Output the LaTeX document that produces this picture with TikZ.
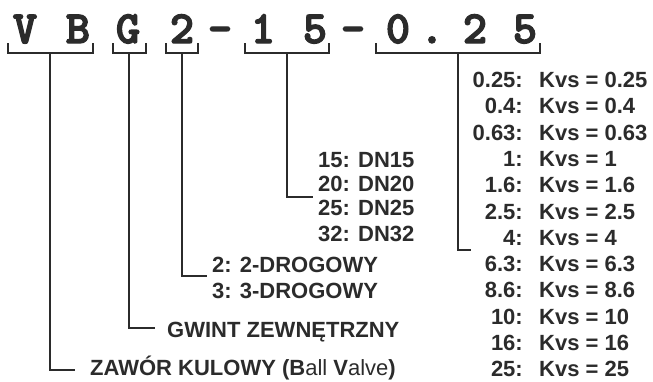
\documentclass[tikz,border=0pt]{standalone}
\usepackage{fontspec}
\setmainfont{Liberation Sans}
\newfontfamily\codefont[FakeBold=3]{lmmonolt10-bold.otf}
\definecolor{ink}{HTML}{2B2B2B}
\begin{document}
\begin{tikzpicture}[x=1pt,y=-1pt,
  code/.style={font=\codefont\fontsize{46}{46}\selectfont, text=ink, anchor=base, inner sep=0pt},
  lbl/.style={font=\bfseries\fontsize{22}{22}\selectfont, text=ink, inner sep=0pt},
  wire/.style={draw=ink, line width=2pt}]
\useasboundingbox (0,0) rectangle (653,381);

% type code, one character per node
\foreach \ch/\x [count=\i] in {V/25, B/78, G/128, 2/182, -/220, 1/263, 5/315, -/353, 0/398, ./432, 2/475, 5/525}
  \node[code] (c\i) at (\x,43) {\ch};

% brackets under the groups of characters
\draw[wire] (8,43) |- (93,53) -- (93,43);
\draw[wire] (113,43) |- (146,53) -- (146,43);
\draw[wire] (166,43) |- (198,53) -- (198,43);
\draw[wire] (245,43) |- (329,53) -- (329,43);
\draw[wire] (376,43) |- (540,53) -- (540,43);
\coordinate (bVB) at (50,53);
\coordinate (bG) at (129,53);
\coordinate (bW) at (182,53);
\coordinate (bDN) at (287,53);
\coordinate (bKv) at (458,53);

% valve type
\node[lbl, anchor=base west] (zaw) at (90,375.5) {ZAWÓR KULOWY (B\mdseries all \bfseries V\mdseries alve\bfseries)};
% connection
\node[lbl, anchor=base west] (gw) at (167,337.5) {GWINT ZEWNĘTRZNY};
% number of ways
\node[lbl, anchor=base west] (w2) at (212,272) {2: 2-DROGOWY};
\node[lbl, anchor=base west] (w3) at (212,298) {3: 3-DROGOWY};
% nominal diameter
\foreach \d/\y [count=\i] in {15/167, 20/191.5, 25/215.5, 32/241.5}
  \node[lbl, anchor=base west] (dn\i) at (318,\y) {\d: DN\d};
% flow coefficient
\foreach \k [count=\i from 0] in {0.25, 0.4, 0.63, 1, 1.6, 2.5, 4, 6.3, 8.6, 10, 16, 25} {
  \node[lbl, anchor=base east] (kk\i) at (523,87.5+26.3*\i) {\k:};
  \node[lbl, anchor=base west] (kv\i) at (539,87.5+26.3*\i) {Kvs = \k};
}

% leaders from the brackets to their legends
\coordinate (eVB) at (75,370);
\coordinate (eG) at (155,328);
\coordinate (eW) at (207,276);
\coordinate (eDN) at (313,197);
\coordinate (eKv) at (471,250);
\draw[wire] (bVB) |- (eVB);
\draw[wire] (bG) |- (eG);
\draw[wire] (bW) |- (eW);
\draw[wire] (bDN) |- (eDN);
\draw[wire] (bKv) |- (eKv);
\end{tikzpicture}
\end{document}
